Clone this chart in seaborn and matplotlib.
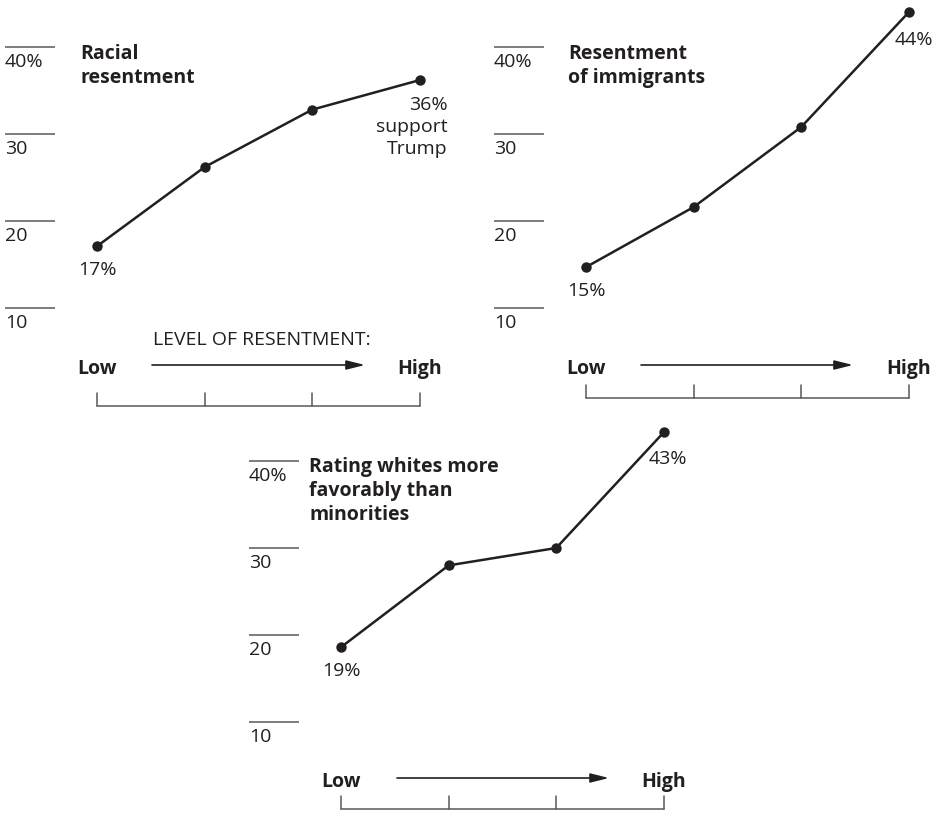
import matplotlib.pyplot as plt
import seaborn as sns
import pandas as pd

# share of whites supporting Trump, by level of resentment (low -> high)
levels = [0, 1, 2, 3]
racial = [17.1, 26.2, 32.8, 36.2]
immigrants = [14.7, 21.6, 30.8, 44.0]
whites_fav = [18.6, 28.0, 30.0, 43.3]

titles = ["Racial\nresentment",
          "Resentment\nof immigrants",
          "Rating whites more\nfavorably than\nminorities"]
grid_values = [10, 20, 30, 40]
grid_labels = ["10", "20", "30", "40%"]
low_labels = ["17%", "15%", "19%"]
high_labels = ["36%\nsupport\nTrump", "44%", "43%"]
scale_caption = "LEVEL OF RESENTMENT:"

INK = "#231f20"
RULE = "#58595b"
W, H = 938, 814
UNIT = 8.7     # px per percentage point
STEP = 107.6   # px per resentment level

sns.set_theme(style="white")
plt.rcParams["font.family"] = ["Open Sans", "DejaVu Sans"]
plt.rcParams["font.size"] = 14
plt.rcParams["text.color"] = INK

fig = plt.figure(figsize=(W / 100, H / 100), dpi=100)

# page position of each panel, in pixels measured from the top-left corner
layout = [
    dict(x0=97, y10=308, grid_x=5, title=(80, 44), arrow=(152, 365), label_y=369,
         bracket_y=406, high_off=(28, -16), caption=(153, 340)),
    dict(x0=586, y10=308, grid_x=494, title=(568, 44), arrow=(641, 853), label_y=369,
         bracket_y=398, high_off=(5, -19), caption=None),
    dict(x0=341, y10=722, grid_x=249, title=(309, 457), arrow=(397, 609), label_y=782,
         bracket_y=809, high_off=(4, -18), caption=None),
]
series = [racial, immigrants, whites_fav]

for i, (vals, lay) in enumerate(zip(series, layout)):
    ax = fig.add_axes([0, 0, 1, 1])
    ax.patch.set_alpha(0)
    x0, y10 = lay["x0"], lay["y10"]

    def px_x(p):
        return (p - x0) / STEP

    def px_y(p):
        return 10 + (y10 - p) / UNIT

    df = pd.DataFrame({"level": levels, "pct": vals})
    sns.lineplot(data=df, x="level", y="pct", ax=ax, color=INK, lw=1.8,
                 marker="o", markersize=7.5, markeredgewidth=0)

    ax.set_xlim(px_x(0), px_x(W))
    ax.set_ylim(px_y(H), px_y(0))
    ax.set_axis_off()

    # short reference rules with labels underneath
    for v, lab in zip(grid_values, grid_labels):
        ax.plot([px_x(lay["grid_x"]), px_x(lay["grid_x"] + 50)], [v, v],
                color=RULE, lw=1.1, solid_capstyle="butt")
        ax.annotate(lab, (px_x(lay["grid_x"]), v), xytext=(0, -6),
                    textcoords="offset pixels", ha="left", va="top")

    ax.text(px_x(lay["title"][0]), px_y(lay["title"][1]), titles[i],
            fontweight="bold", ha="left", va="top", linespacing=1.25)

    ax.annotate(low_labels[i], (levels[0], vals[0]), xytext=(0, -24),
                textcoords="offset pixels", ha="center", va="center")
    ax.annotate(high_labels[i], (levels[-1], vals[-1]), xytext=lay["high_off"],
                textcoords="offset pixels", ha="right" if i == 0 else "center",
                va="top", multialignment="right", linespacing=1.3)

    # low -> high scale with bracket ticks
    ly = px_y(lay["label_y"])
    ax.text(levels[0], ly, "Low", fontweight="bold", ha="center", va="center")
    ax.text(levels[-1], ly, "High", fontweight="bold", ha="center", va="center")
    a0, a1 = lay["arrow"]
    ay = px_y(lay["label_y"] - 4)
    ax.annotate("", xy=(px_x(a1), ay), xytext=(px_x(a0), ay),
                arrowprops=dict(arrowstyle="-|>,head_length=0.8,head_width=0.2",
                                color=INK, lw=1.2, shrinkA=0, shrinkB=0))
    if lay["caption"]:
        ax.text(px_x(lay["caption"][0]), px_y(lay["caption"][1]), scale_caption,
                ha="left", va="center")

    by = px_y(lay["bracket_y"])
    ty = px_y(lay["bracket_y"] - 13)
    ax.plot([levels[0], levels[-1]], [by, by], color=RULE, lw=1.1)
    for lv in levels:
        ax.plot([lv, lv], [by, ty], color=RULE, lw=1.1)

fig.savefig("out.png", dpi=100)
